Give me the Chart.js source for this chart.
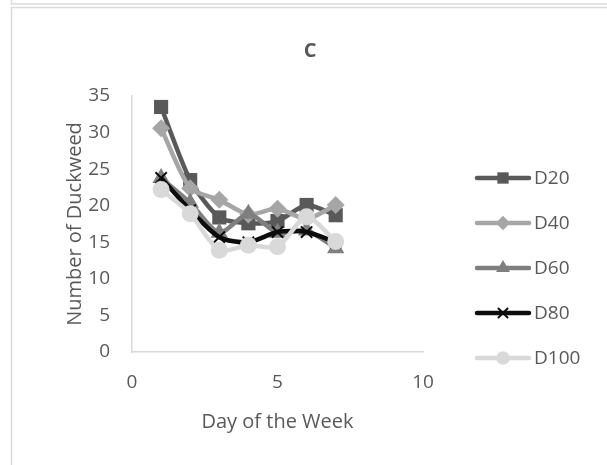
<!DOCTYPE html>
<html>
<head>
<meta charset="utf-8">
<script src="https://cdn.jsdelivr.net/npm/chart.js@4"></script>
<style>
  html, body { margin: 0; padding: 0; background: #fff; }
  #wrap { position: relative; width: 607px; height: 465px; }
</style>
</head>
<body>
<div id="wrap"><canvas id="myChart" width="607" height="465"></canvas></div>
<script>
const days = [1, 2, 3, 4, 5, 6, 7];
const d20 = [33.5, 23.5, 18.4, 17.6, 17.9, 20.1, 18.7];
const d40 = [30.6, 22.4, 20.8, 18.8, 19.6, 18.2, 20.1];
const d60 = [23.8, 20.4, 16.3, 18.9, 16.3, 16.6, 14.2];
const d80 = [23.8, 19.4, 15.7, 15.0, 16.4, 16.4, 15.0];
const d100 = [22.2, 18.9, 13.9, 14.6, 14.4, 18.5, 15.1];
const seriesNames = ['D20', 'D40', 'D60', 'D80', 'D100'];
const xTicks = [0, 5, 10];

const font = "'Open Sans', sans-serif";
const textColor = '#595959';

function pts(ys) {
    return days.map((d, i) => ({ x: d, y: ys[i] }));
}

const styles = [
    { color: '#595959', point: 'rect', radius: 10, border: 0 },
    { color: '#a6a6a6', point: 'rectRot', radius: 9, border: 0 },
    { color: '#7f7f7f', point: 'triangle', radius: 10, border: 0 },
    { color: '#0d0d0d', point: 'crossRot', radius: 8, border: 2 },
    { color: '#d9d9d9', point: 'circle', radius: 8.5, border: 0 }
];
const values = [d20, d40, d60, d80, d100];

const datasets = seriesNames.map((name, i) => ({
    label: name,
    data: pts(values[i]),
    showLine: true,
    borderColor: styles[i].color,
    backgroundColor: styles[i].color,
    borderWidth: 4.5,
    pointStyle: styles[i].point,
    pointRadius: styles[i].radius,
    pointBorderWidth: styles[i].border,
    pointBorderColor: styles[i].color,
    pointBackgroundColor: styles[i].color,
    tension: 0.25,
    order: 5 - i
}));

// frame lines + legend drawn by hand (line + marker like the original)
const framePlugin = {
    id: 'frame',
    beforeDraw(chart) {
        const c = chart.ctx;
        c.save();
        c.fillStyle = '#fff';
        c.fillRect(0, 0, chart.width, chart.height);
        c.strokeStyle = '#d9d9d9';
        c.lineWidth = 1.5;
        c.beginPath();
        c.moveTo(11.5, 0); c.lineTo(11.5, 4); c.lineTo(607, 4);
        c.moveTo(11.5, 465); c.lineTo(11.5, 7.5); c.lineTo(607, 7.5);
        c.stroke();
        c.restore();
    },
    afterDraw(chart) {
        const c = chart.ctx;
        c.save();
        chart.data.datasets.forEach((ds, i) => {
            const y = 178 + i * 45;
            c.strokeStyle = ds.borderColor;
            c.lineWidth = 4.5;
            c.lineCap = 'round';
            c.beginPath();
            c.moveTo(477, y); c.lineTo(529, y);
            c.stroke();
            c.fillStyle = ds.backgroundColor;
            c.strokeStyle = ds.borderColor;
            c.lineWidth = ds.pointBorderWidth;
            Chart.helpers.drawPoint(c, {
                pointStyle: ds.pointStyle,
                radius: ds.pointRadius * 0.8,
                borderWidth: ds.pointBorderWidth,
                rotation: 0
            }, 503, y);
            c.fillStyle = textColor;
            c.font = '19px ' + font;
            c.textBaseline = 'middle';
            c.textAlign = 'left';
            c.fillText(ds.label, 534, y + 1);
        });
        c.font = 'bold 20px ' + font;
        c.textAlign = 'center';
        c.fillText('C', 310, 51);
        c.restore();
    }
};

new Chart(document.getElementById('myChart'), {
    type: 'scatter',
    data: { datasets },
    plugins: [framePlugin],
    options: {
        responsive: false,
        animation: false,
        layout: { padding: { left: 0, right: 184, top: 96, bottom: 0 } },
        plugins: {
            legend: { display: false },
            title: { display: false },
            tooltip: { enabled: false }
        },
        scales: {
            x: {
                type: 'linear',
                min: 0, max: 10,
                afterBuildTicks: (s) => { s.ticks = xTicks.map(v => ({ value: v })); },
                afterFit: (s) => { s.height = 113; },
                grid: { display: false, drawTicks: false },
                border: { display: true, color: '#d9d9d9', width: 1.5 },
                ticks: { color: textColor, font: { family: font, size: 19 }, padding: 19, maxRotation: 0 },
                title: {
                    display: true, text: 'Day of the Week', color: textColor,
                    font: { family: font, size: 20 }, padding: { top: 0, bottom: 31 }
                }
            },
            y: {
                min: 0, max: 35,
                ticks: { stepSize: 5, color: textColor, font: { family: font, size: 19 }, padding: 22 },
                afterFit: (s) => { s.width = 132; },
                grid: { display: false, drawTicks: false },
                border: { display: true, color: '#d9d9d9', width: 1.5 },
                title: {
                    display: true, text: 'Number of Duckweed', color: textColor,
                    font: { family: font, size: 20 }, padding: { top: 63, bottom: 0 }
                }
            }
        }
    }
});
</script>
</body>
</html>
